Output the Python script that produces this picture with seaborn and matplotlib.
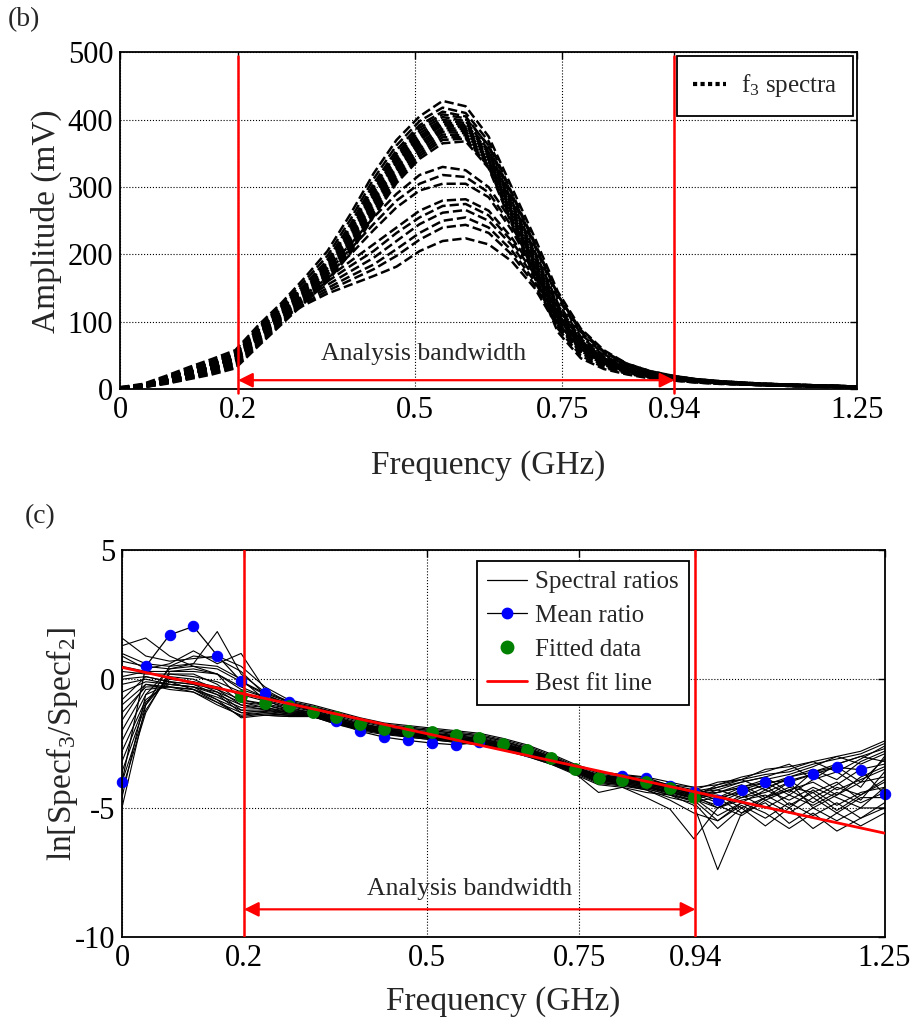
import numpy as np
import pandas as pd
import matplotlib
matplotlib.use("Agg")
import matplotlib.pyplot as plt
import seaborn as sns
from matplotlib.lines import Line2D

# ---------------- data ----------------
freq = np.linspace(0, 1.25, 33)          # GHz sample grid (33 FFT bins)
x_ticks = [0, 0.2, 0.5, 0.75, 0.94, 1.25]
x_tick_labels = ["0", "0.2", "0.5", "0.75", "0.94", "1.25"]
amp_ticks = [0, 100, 200, 300, 400, 500]
ratio_ticks = [-10, -5, 0, 5]
ratio_tick_labels = ["-10", "-5", "0", "5"]
band_lo, band_hi = 0.2, 0.94

# (b) f3 spectra, amplitude in mV
spectra = [
    [3, 8, 20, 33, 45, 58, 95, 128, 165, 205, 260, 320, 370, 405, 428, 420, 375, 300, 225, 145, 90, 58, 38, 27, 20, 15, 12, 10, 8, 7, 6, 5, 4],
    [2, 7, 18, 30, 42, 55, 92, 125, 160, 198, 252, 312, 362, 398, 418, 410, 368, 292, 218, 140, 85, 55, 36, 26, 19, 15, 12, 10, 8, 7, 6, 5, 4],
    [2, 6, 16, 28, 40, 52, 90, 122, 155, 192, 245, 305, 355, 392, 412, 405, 360, 285, 212, 135, 82, 52, 35, 25, 19, 14, 11, 9, 8, 7, 6, 5, 4],
    [3, 7, 17, 29, 40, 53, 88, 120, 152, 188, 240, 300, 350, 388, 408, 402, 362, 290, 215, 140, 88, 56, 38, 27, 20, 15, 12, 10, 8, 7, 6, 5, 4],
    [2, 6, 15, 27, 38, 50, 86, 118, 150, 185, 236, 296, 346, 384, 404, 398, 355, 280, 205, 128, 78, 50, 33, 24, 18, 14, 11, 9, 8, 7, 6, 5, 4],
    [2, 6, 14, 25, 36, 48, 84, 116, 148, 182, 232, 292, 342, 380, 400, 395, 352, 278, 202, 125, 75, 48, 32, 24, 18, 14, 11, 9, 8, 7, 6, 5, 4],
    [2, 5, 14, 24, 35, 46, 82, 114, 146, 180, 228, 288, 338, 376, 397, 392, 350, 275, 200, 122, 72, 46, 31, 23, 17, 13, 10, 9, 7, 6, 5, 5, 4],
    [1, 5, 13, 23, 34, 45, 80, 112, 144, 178, 225, 284, 335, 373, 394, 390, 348, 272, 196, 118, 70, 45, 30, 22, 17, 13, 10, 8, 7, 6, 5, 4, 3],
    [2, 5, 13, 22, 32, 43, 78, 110, 142, 176, 222, 280, 330, 370, 392, 388, 345, 268, 192, 115, 67, 43, 29, 22, 16, 12, 10, 8, 7, 6, 5, 4, 3],
    [1, 4, 12, 21, 31, 42, 76, 108, 140, 174, 220, 278, 328, 366, 388, 386, 342, 265, 190, 112, 65, 42, 28, 21, 16, 12, 10, 8, 7, 6, 5, 4, 3],
    [1, 4, 11, 20, 30, 40, 74, 106, 138, 172, 218, 275, 325, 362, 385, 383, 340, 262, 186, 108, 62, 40, 27, 20, 15, 12, 9, 8, 6, 5, 5, 4, 3],
    [1, 4, 11, 19, 29, 39, 72, 104, 136, 170, 215, 272, 322, 358, 382, 380, 338, 260, 182, 104, 60, 38, 26, 19, 15, 11, 9, 7, 6, 5, 4, 4, 3],
    [1, 3, 10, 18, 27, 37, 70, 102, 134, 168, 212, 268, 318, 354, 378, 377, 335, 256, 178, 100, 57, 36, 25, 18, 14, 11, 9, 7, 6, 5, 4, 4, 3],
    [1, 3, 9, 17, 26, 35, 68, 100, 132, 165, 208, 264, 314, 350, 374, 374, 332, 252, 174, 95, 54, 34, 24, 18, 14, 11, 9, 7, 6, 5, 4, 3, 3],
    [1, 3, 9, 16, 24, 33, 66, 98, 130, 162, 205, 260, 310, 346, 370, 372, 330, 248, 170, 90, 50, 32, 23, 17, 13, 10, 8, 7, 6, 5, 4, 3, 3],
    [1, 3, 8, 15, 22, 31, 64, 96, 128, 160, 202, 256, 306, 342, 365, 368, 328, 245, 166, 85, 46, 30, 22, 16, 13, 10, 8, 7, 6, 5, 4, 3, 2],
    [2, 6, 16, 27, 38, 50, 86, 118, 150, 180, 215, 255, 290, 318, 330, 325, 300, 250, 190, 120, 72, 46, 31, 23, 17, 13, 10, 9, 7, 6, 5, 5, 4],
    [2, 5, 14, 25, 35, 47, 82, 114, 146, 175, 208, 245, 280, 305, 318, 315, 292, 242, 182, 112, 66, 42, 29, 22, 16, 12, 10, 8, 7, 6, 5, 4, 3],
    [1, 5, 13, 23, 33, 44, 80, 112, 142, 170, 200, 236, 270, 295, 305, 305, 285, 236, 176, 106, 62, 40, 28, 21, 16, 12, 9, 8, 7, 6, 5, 4, 3],
    [2, 6, 16, 27, 38, 50, 86, 115, 140, 165, 190, 215, 240, 265, 280, 282, 265, 225, 175, 110, 68, 44, 30, 22, 17, 13, 10, 9, 7, 6, 5, 5, 4],
    [2, 5, 15, 25, 36, 48, 84, 112, 136, 160, 183, 205, 232, 255, 272, 275, 258, 220, 170, 106, 64, 42, 29, 21, 16, 12, 10, 8, 7, 6, 5, 4, 3],
    [2, 5, 14, 24, 34, 46, 82, 110, 134, 155, 175, 195, 220, 245, 262, 266, 250, 214, 165, 102, 62, 40, 28, 21, 16, 12, 10, 8, 7, 6, 5, 4, 3],
    [1, 5, 13, 23, 33, 45, 80, 108, 132, 150, 168, 185, 208, 232, 250, 255, 240, 206, 160, 98, 60, 39, 27, 20, 15, 12, 9, 8, 7, 6, 5, 4, 3],
    [1, 4, 12, 22, 32, 43, 78, 106, 128, 146, 162, 178, 198, 222, 240, 244, 232, 200, 155, 95, 58, 38, 26, 20, 15, 11, 9, 8, 6, 5, 5, 4, 3],
    [1, 4, 11, 20, 30, 41, 76, 104, 125, 142, 155, 168, 182, 205, 220, 224, 215, 190, 150, 92, 56, 36, 25, 19, 14, 11, 9, 7, 6, 5, 4, 4, 3],
]

# (c) spectral ratios ln[Spec f3 / Spec f2]
ratios = [
    [1.6, 0.9, 0.7, 0.8, 0.9, 0.5, -0.3, -0.8, -1.0, -1.25, -1.5, -1.7, -1.8, -1.9, -2.0, -2.1, -2.3, -2.55, -2.9, -3.3, -3.6, -3.7, -3.8, -4.0, -4.2, -4.1, -3.9, -3.7, -3.6, -3.3, -3.1, -2.9, -2.5],
    [1.3, 1.6, 0.9, 0.5, 0.2, -0.4, -0.7, -0.9, -1.1, -1.3, -1.55, -1.75, -1.85, -1.95, -2.05, -2.15, -2.35, -2.6, -2.95, -3.35, -3.65, -3.75, -3.9, -4.1, -4.3, -4.0, -3.9, -4.3, -3.8, -3.5, -3.9, -3.2, -2.8],
    [1.0, 0.6, 0.5, 0.6, 1.85, 0.2, -0.5, -0.85, -1.05, -1.3, -1.6, -1.8, -1.9, -2.0, -2.1, -2.2, -2.4, -2.65, -3.0, -3.4, -3.7, -3.8, -3.95, -4.1, -4.2, -4.6, -4.2, -4.0, -4.5, -3.9, -3.6, -4.2, -3.0],
    [0.9, 0.4, 0.6, 1.1, 0.6, 1.0, -0.4, -0.9, -1.1, -1.35, -1.6, -1.8, -1.9, -2.0, -2.1, -2.2, -2.4, -2.7, -3.0, -3.4, -3.75, -3.85, -4.0, -4.2, -4.4, -4.3, -4.6, -4.2, -3.9, -4.6, -4.1, -3.5, -3.3],
    [0.7, 0.5, 0.4, 0.5, 0.4, -0.1, -0.6, -0.95, -1.15, -1.4, -1.65, -1.85, -1.95, -2.05, -2.15, -2.25, -2.45, -2.7, -3.05, -3.4, -3.75, -3.9, -4.05, -4.2, -4.5, -4.4, -4.2, -4.7, -4.3, -4.0, -4.5, -3.8, -3.4],
    [0.5, 0.3, 0.3, 0.3, 0.2, -0.3, -0.7, -1.0, -1.2, -1.45, -1.7, -1.9, -2.0, -2.1, -2.2, -2.3, -2.5, -2.75, -3.05, -3.45, -3.8, -3.9, -4.05, -4.25, -4.45, -4.8, -4.4, -4.1, -4.9, -4.4, -4.0, -4.7, -3.6],
    [0.3, 0.2, 0.2, 0.1, -0.1, -0.5, -0.8, -1.05, -1.25, -1.5, -1.75, -1.9, -2.0, -2.1, -2.2, -2.3, -2.5, -2.75, -3.1, -3.45, -3.8, -3.95, -4.1, -4.3, -4.5, -5.0, -4.6, -4.4, -4.0, -5.0, -4.5, -4.0, -3.8],
    [0.1, 0.3, 0.0, -0.1, -0.3, -0.6, -0.85, -1.1, -1.3, -1.5, -1.75, -1.95, -2.05, -2.15, -2.25, -2.35, -2.55, -2.8, -3.1, -3.5, -3.85, -3.95, -4.1, -4.3, -4.55, -4.5, -5.0, -4.6, -4.2, -4.4, -5.1, -4.5, -4.0],
    [0.0, 0.1, -0.1, -0.2, -0.4, -0.8, -0.95, -1.15, -1.3, -1.55, -1.8, -1.95, -2.05, -2.15, -2.25, -2.35, -2.55, -2.8, -3.1, -3.5, -3.85, -4.0, -4.15, -4.35, -4.6, -5.3, -4.8, -4.3, -4.7, -4.2, -4.6, -5.0, -4.2],
    [-0.2, 0.0, -0.2, -0.3, -0.5, -0.9, -1.0, -1.2, -1.35, -1.6, -1.8, -2.0, -2.1, -2.2, -2.3, -2.4, -2.6, -2.85, -3.15, -3.5, -3.9, -4.0, -4.15, -4.4, -4.65, -5.0, -4.5, -5.0, -4.5, -4.9, -4.4, -4.8, -4.4],
    [-0.5, -0.1, -0.2, -0.3, -0.6, -1.0, -1.1, -1.25, -1.35, -1.6, -1.85, -2.0, -2.1, -2.2, -2.3, -2.4, -2.6, -2.85, -3.15, -3.55, -3.9, -4.05, -4.2, -4.4, -4.6, -4.9, -5.3, -4.7, -5.2, -4.6, -5.2, -4.6, -4.6],
    [-0.8, 0.1, -0.1, -0.4, -0.7, -1.1, -1.15, -1.3, -1.4, -1.65, -1.85, -2.05, -2.15, -2.25, -2.35, -2.45, -2.65, -2.9, -3.2, -3.55, -3.95, -4.05, -4.2, -4.45, -4.7, -5.5, -4.9, -5.4, -4.8, -5.3, -4.8, -5.4, -4.8],
    [-1.0, -0.2, -0.3, -0.4, -0.8, -1.2, -1.2, -1.3, -1.4, -1.65, -1.9, -2.05, -2.15, -2.25, -2.35, -2.45, -2.65, -2.9, -3.2, -3.6, -4.0, -4.1, -4.25, -4.5, -4.75, -4.6, -5.2, -4.8, -5.6, -5.0, -5.5, -5.0, -5.0],
    [-1.3, -0.3, -0.3, -0.5, -0.9, -1.3, -1.25, -1.35, -1.45, -1.7, -1.9, -2.1, -2.2, -2.3, -2.4, -2.5, -2.7, -2.95, -3.25, -3.6, -4.0, -4.1, -4.3, -4.6, -4.8, -5.8, -5.0, -5.7, -5.0, -5.8, -5.2, -5.7, -5.2],
    [-1.6, -0.2, -0.4, -0.5, -1.0, -1.4, -1.3, -1.4, -1.45, -1.7, -1.95, -2.1, -2.2, -2.3, -2.4, -2.5, -2.7, -2.95, -3.25, -3.65, -4.05, -4.15, -4.3, -4.7, -5.2, -5.5, -4.8, -5.2, -5.8, -5.2, -5.9, -5.4, -5.0],
    [-2.0, -0.4, -0.3, -0.4, -0.9, -1.45, -1.35, -1.4, -1.45, -1.75, -1.95, -2.1, -2.25, -2.35, -2.45, -2.55, -2.75, -3.0, -3.3, -3.65, -4.4, -4.2, -4.6, -5.05, -6.2, -5.0, -4.7, -4.5, -5.0, -4.3, -4.9, -4.4, -4.2],
    [-2.4, -0.6, -0.2, -0.3, -0.8, -1.5, -1.4, -1.45, -1.45, -1.75, -2.0, -2.15, -2.25, -2.35, -2.45, -2.55, -2.75, -3.0, -3.3, -3.7, -4.1, -4.2, -4.4, -4.5, -4.9, -7.4, -5.2, -4.6, -4.3, -4.8, -4.2, -4.5, -3.9],
    [-2.8, -0.8, -0.1, -0.2, -0.6, -1.3, -1.4, -1.45, -1.45, -1.7, -1.95, -2.1, -2.2, -2.3, -2.4, -2.5, -2.7, -2.95, -3.25, -3.6, -4.0, -4.1, -4.25, -4.5, -4.7, -4.4, -4.1, -4.6, -4.0, -3.7, -4.3, -3.9, -3.5],
    [-3.2, -0.9, 0.0, -0.1, -0.5, -1.2, -1.3, -1.4, -1.4, -1.7, -1.95, -2.1, -2.2, -2.3, -2.4, -2.5, -2.7, -2.95, -3.2, -3.6, -3.95, -4.05, -4.2, -4.4, -4.6, -4.3, -4.0, -3.8, -4.4, -3.6, -3.4, -4.0, -3.1],
    [-3.6, -1.0, 0.1, 0.0, -0.4, -1.0, -1.2, -1.35, -1.4, -1.65, -1.9, -2.05, -2.15, -2.25, -2.35, -2.45, -2.65, -2.9, -3.2, -3.55, -3.9, -4.0, -4.15, -4.35, -4.55, -4.1, -3.8, -3.6, -3.3, -3.9, -3.3, -3.0, -2.7],
    [-4.0, -1.2, 0.2, 0.2, -0.2, -0.9, -1.1, -1.3, -1.35, -1.6, -1.85, -2.0, -2.1, -2.2, -2.3, -2.4, -2.6, -2.85, -3.15, -3.5, -3.85, -3.95, -4.1, -4.3, -4.5, -4.2, -3.9, -3.5, -3.4, -3.2, -3.6, -3.1, -2.6],
    [-4.3, -1.3, 0.3, 0.4, 0.2, -0.8, -1.0, -1.25, -1.35, -1.6, -1.85, -2.0, -2.1, -2.2, -2.3, -2.4, -2.6, -2.85, -3.15, -3.5, -3.8, -3.9, -4.05, -4.25, -4.45, -4.4, -4.2, -3.9, -3.7, -3.4, -3.0, -3.3, -2.9],
    [-4.6, -0.6, 0.4, 0.6, 0.5, 0.0, -0.8, -1.2, -1.3, -1.55, -1.8, -1.95, -2.05, -2.15, -2.25, -2.35, -2.55, -2.8, -3.1, -3.45, -3.8, -3.9, -4.05, -4.25, -4.4, -4.6, -4.4, -4.1, -3.8, -3.6, -3.3, -3.0, -3.2],
    [-5.0, -1.0, 0.5, 0.9, 0.8, 0.3, -0.6, -1.0, -1.2, -1.5, -1.75, -1.9, -2.0, -2.1, -2.2, -2.3, -2.5, -2.75, -3.05, -3.45, -3.75, -3.85, -4.0, -4.2, -4.35, -4.2, -4.0, -3.8, -3.5, -3.2, -3.0, -2.8, -2.4],
]

mean_ratio = [-4.0, 0.5, 1.72, 2.05, 0.92, -0.08, -0.55, -0.88, -1.28, -1.64, -2.03, -2.25,
              -2.38, -2.48, -2.55, -2.45, -2.52, -2.78, -3.08, -3.5, -3.82, -3.75, -3.82,
              -4.14, -4.4, -4.69, -4.30, -4.01, -3.94, -3.69, -3.42, -3.52, -4.47]

fit_first, fit_last = 5, 24   # bins used in the fit (0.195 - 0.94 GHz)
fitted_data = [-0.65, -0.93, -1.06, -1.26, -1.45, -1.75, -1.94, -2.0, -2.07, -2.18,
               -2.3, -2.5, -2.76, -3.08, -3.5, -3.82, -3.9, -4.0, -4.23, -4.56]
best_fit_f = [0.0, 1.25]
best_fit_v = [0.46, -5.98]

# ---------------- frames ----------------
df_spec = pd.DataFrame([(i, f, a) for i, row in enumerate(spectra) for f, a in zip(freq, row)],
                       columns=["curve", "freq", "amp"])
df_ratio = pd.DataFrame([(i, f, v) for i, row in enumerate(ratios) for f, v in zip(freq, row)],
                        columns=["curve", "freq", "ratio"])
df_mean = pd.DataFrame({"freq": freq, "ratio": mean_ratio})
df_fit = pd.DataFrame({"freq": freq[fit_first:fit_last + 1], "ratio": fitted_data})
df_line = pd.DataFrame({"freq": best_fit_f, "ratio": best_fit_v})

# ---------------- style ----------------
sns.set_theme(style="white")
plt.rcParams["font.family"] = ["Liberation Serif", "DejaVu Serif"]
plt.rcParams["mathtext.fontset"] = "custom"
plt.rcParams["mathtext.rm"] = "Liberation Serif"
plt.rcParams["mathtext.it"] = "Liberation Serif:italic"
plt.rcParams["axes.unicode_minus"] = False

TICK_FS = 22
LAB_FS = 24
LEG_FS = 18

fig = plt.figure(figsize=(9.1, 10.27), dpi=100)
ax1 = fig.add_axes([0.132, 0.621, 0.810, 0.328])
ax2 = fig.add_axes([0.134, 0.088, 0.838, 0.376])


def style_axes(ax):
    for s in ax.spines.values():
        s.set_color("black")
        s.set_linewidth(1.3)
    ax.grid(True, linestyle=":", color="black", linewidth=0.8)
    ax.set_axisbelow(True)
    ax.tick_params(direction="in", top=True, right=True, length=5, width=1,
                   labelsize=TICK_FS, colors="black", pad=5)


# ---------------- (b) ----------------
sns.lineplot(data=df_spec, x="freq", y="amp", units="curve", estimator=None,
             color="black", linestyle="--", linewidth=1.8, legend=False, ax=ax1)
ax1.plot([band_lo, band_lo], [-6, 494], color="red", lw=1.8, clip_on=False, zorder=5)
ax1.plot([band_hi, band_hi], [-6, 494], color="red", lw=1.8, clip_on=False, zorder=5)
ax1.annotate("", xy=(band_lo, 13.4), xytext=(band_hi, 13.4),
             arrowprops=dict(arrowstyle="<|-|>", color="red", lw=1.6,
                             mutation_scale=22, shrinkA=0, shrinkB=0), zorder=6)
ax1.text(0.514, 52, "Analysis bandwidth", ha="center", va="center", fontsize=18.5)
ax1.set_xlim(0, 1.25)
ax1.set_ylim(0, 500)
ax1.set_xticks(x_ticks)
ax1.set_xticklabels(x_tick_labels)
ax1.set_yticks(amp_ticks)
ax1.set_xlabel("Frequency (GHz)", fontsize=LAB_FS, labelpad=18)
ax1.set_ylabel("Amplitude (mV)", fontsize=LAB_FS, labelpad=4)
style_axes(ax1)
h1 = [Line2D([], [], color="black", linestyle=(0, (1, 0.8)), lw=3)]
leg1 = ax1.legend(h1, ["f$_3$ spectra"], loc="upper right", fontsize=LEG_FS,
                  frameon=True, fancybox=False, framealpha=1, edgecolor="black",
                  borderaxespad=0.15, borderpad=0.65, handlelength=1.3, handletextpad=0.6)
leg1.get_frame().set_linewidth(1.3)

# ---------------- (c) ----------------
sns.lineplot(data=df_ratio, x="freq", y="ratio", units="curve", estimator=None,
             color="black", linewidth=0.8, legend=False, ax=ax2)
sns.lineplot(data=df_mean, x="freq", y="ratio", color="black", linewidth=0.9,
             marker="o", markersize=7.5, markerfacecolor="blue", markeredgecolor="blue",
             legend=False, ax=ax2, clip_on=False)
sns.scatterplot(data=df_fit, x="freq", y="ratio", color="green", s=85, edgecolor="green",
                linewidth=0, legend=False, ax=ax2, zorder=4)
sns.lineplot(data=df_line, x="freq", y="ratio", color="red", linewidth=2,
             legend=False, ax=ax2)
ax2.lines[-1].set_zorder(5)
ax2.axvline(band_lo, color="red", lw=1.8, zorder=5)
ax2.axvline(band_hi, color="red", lw=1.8, zorder=5)
ax2.annotate("", xy=(band_lo, -8.94), xytext=(band_hi, -8.94),
             arrowprops=dict(arrowstyle="<|-|>", color="red", lw=1.6,
                             mutation_scale=22, shrinkA=0, shrinkB=0), zorder=6)
ax2.text(0.57, -8.15, "Analysis bandwidth", ha="center", va="center", fontsize=18.5)
ax2.set_xlim(0, 1.25)
ax2.set_ylim(-10, 5)
ax2.set_xticks(x_ticks)
ax2.set_xticklabels(x_tick_labels)
ax2.set_yticks(ratio_ticks)
ax2.set_yticklabels(ratio_tick_labels)
ax2.set_xlabel("Frequency (GHz)", fontsize=LAB_FS, labelpad=10)
ax2.set_ylabel("ln[Specf$_3$/Specf$_2$]", fontsize=LAB_FS, labelpad=-4)
style_axes(ax2)
h2 = [Line2D([], [], color="black", lw=0.9),
      Line2D([], [], color="black", lw=0.9, marker="o", markersize=7.5,
             markerfacecolor="blue", markeredgecolor="blue"),
      Line2D([], [], color="none", marker="o", markersize=9,
             markerfacecolor="green", markeredgecolor="green"),
      Line2D([], [], color="red", lw=2)]
leg2 = ax2.legend(h2, ["Spectral ratios", "Mean ratio", "Fitted data", "Best fit line"],
                  loc="upper right", bbox_to_anchor=(0.743, 0.973), borderaxespad=0,
                  fontsize=LEG_FS, frameon=True, fancybox=False, framealpha=1,
                  edgecolor="black", handlelength=1.6, handletextpad=0.3,
                  labelspacing=0.45, borderpad=0.4)
leg2.get_frame().set_linewidth(1.3)

fig.text(8 / 910, 1 - 20 / 1027, "(b)", fontsize=20, ha="left", va="center")
fig.text(25 / 910, 1 - 517 / 1027, "(c)", fontsize=20, ha="left", va="center")

fig.savefig("out.png", dpi=100)
